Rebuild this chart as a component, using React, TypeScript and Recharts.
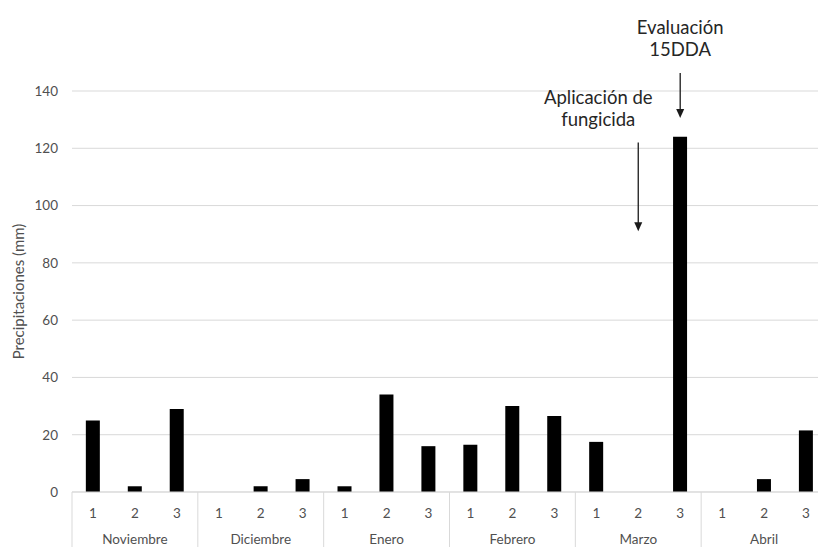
import React from 'react';
import { BarChart, Bar, XAxis, YAxis, CartesianGrid, ReferenceLine } from 'recharts';

// Precipitación por década (1, 2, 3) de cada mes
const months = ['Noviembre', 'Diciembre', 'Enero', 'Febrero', 'Marzo', 'Abril'];
const decades = ['1', '2', '3'];
const rainfall = [25, 2, 29, 0, 2, 4.5, 2, 34, 16, 16.5, 30, 26.5, 17.5, 0, 124, 0, 4.5, 21.5];
const yTicks = [0, 20, 40, 60, 80, 100, 120, 140];

const annotations = [
  { key: 'Marzo-2', lines: ['Aplicación de', 'fungicida'], from: 122, to: 91, dx: -40 },
  { key: 'Marzo-3', lines: ['Evaluación', '15DDA'], from: 146.3, to: 130.6, dx: 0 },
];

const data = months.flatMap((m, i) =>
  decades.map((d, j) => ({ key: `${m}-${d}`, month: m, day: d, mm: rainfall[i * 3 + j] }))
);

const FONT = 'Lato, "Open Sans", sans-serif';
const GREY = '#505050';
const GRID = '#d9d9d9';

const CHART_W = 840;
const CHART_H = 560;
const MARGIN = { top: 91, right: 13, left: 0, bottom: 0 };
const Y_W = 72;
const DAY_H = 30;
const DAY_GAP = 16;
const MONTH_H = 38;
const MONTH_GAP = 12;
const SLOT = (CHART_W - MARGIN.left - MARGIN.right - Y_W) / data.length;

const DayTick = ({ x, y, index }: any) => (
  <text x={x} y={y} dy="0.71em" textAnchor="middle" fill={GREY} fontSize={13.5} fontFamily={FONT}>
    {data[index]?.day}
  </text>
);

const MonthTick = ({ x, y, index }: any) => {
  const top = y - MONTH_GAP - DAY_H;
  return (
    <g>
      {index % 3 === 0 && (
        <line x1={x - SLOT / 2} x2={x - SLOT / 2} y1={top} y2={top + DAY_H + MONTH_H + 10} stroke={GRID} />
      )}
      {index % 3 === 1 && (
        <text x={x} y={y} dy="0.71em" textAnchor="middle" fill={GREY} fontSize={13.5} fontFamily={FONT}>
          {data[index].month}
        </text>
      )}
    </g>
  );
};

const YLabel = ({ viewBox }: any) => {
  const cx = viewBox.x + 18;
  const cy = viewBox.y + viewBox.height / 2;
  return (
    <text x={cx} y={cy} transform={`rotate(-90 ${cx} ${cy})`} textAnchor="middle" dominantBaseline="central"
      fill={GREY} fontSize={15} fontFamily={FONT}>
      Precipitaciones (mm)
    </text>
  );
};

const arrowShape = (lines: string[], dx: number) => (props: any) => {
  const { x1, y1, x2, y2 } = props;
  const top = Math.min(y1, y2);
  const tip = Math.max(y1, y2);
  const x = x1;
  return (
    <g>
      <line x1={x} x2={x2} y1={top} y2={tip - 6} stroke="#1a1a1a" strokeWidth={1.3} />
      <polygon points={`${x - 4},${tip - 9} ${x + 4},${tip - 9} ${x},${tip}`} fill="#1a1a1a" />
      {lines.map((t, i) => (
        <text key={t} x={x + dx} y={top - 24 - (lines.length - 1 - i) * 22} textAnchor="middle"
          dominantBaseline="central" fill="#262626" fontSize={18.5} fontFamily={FONT}>
          {t}
        </text>
      ))}
    </g>
  );
};

export default function App() {
  return (
    <div style={{ position: 'absolute', left: 0, top: 0, width: 818, height: 547, overflow: 'hidden', background: '#fff' }}>
      <BarChart width={CHART_W} height={CHART_H} data={data} margin={MARGIN} barCategoryGap="33%">
        <CartesianGrid vertical={false} stroke={GRID} />
        <XAxis xAxisId="day" dataKey="key" interval={0} height={DAY_H} tickSize={0} tickMargin={DAY_GAP}
          axisLine={{ stroke: GRID }} tick={<DayTick />} />
        <XAxis xAxisId="month" dataKey="key" interval={0} height={MONTH_H} tickSize={0} tickMargin={MONTH_GAP}
          axisLine={false} tick={<MonthTick />} />
        <YAxis width={Y_W} domain={[0, 140]} ticks={yTicks} axisLine={false} tickLine={false} tickSize={0}
          tickMargin={14} tick={{ fill: GREY, fontSize: 13.5, fontFamily: FONT }} label={<YLabel />} />
        <Bar xAxisId="day" dataKey="mm" fill="#000" isAnimationActive={false} />
        {annotations.map((a) => (
          <ReferenceLine key={a.key} xAxisId="day" ifOverflow="visible"
            segment={[{ x: a.key, y: a.from }, { x: a.key, y: a.to }]}
            shape={arrowShape(a.lines, a.dx)} />
        ))}
      </BarChart>
    </div>
  );
}
